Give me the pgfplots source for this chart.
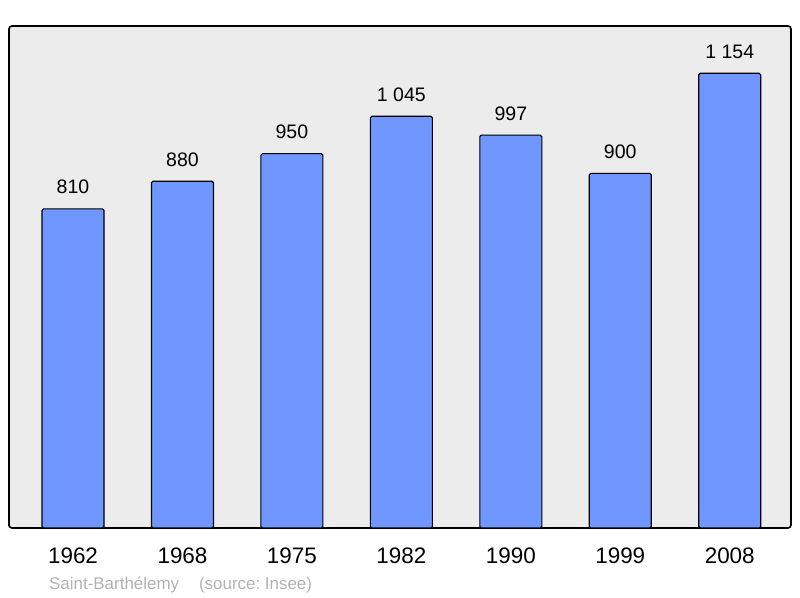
\documentclass[border=0pt]{standalone}
\usepackage{pgfplots}
\pgfplotsset{compat=1.18}
\usepackage{fontspec}
\setmainfont{Liberation Sans}
\definecolor{barblue}{RGB}{112,150,255}
\definecolor{panel}{RGB}{236,236,236}
\definecolor{srcgray}{RGB}{178,178,178}
\frenchspacing

\begin{document}
\begin{tikzpicture}[x=1bp,y=1bp]
\useasboundingbox (0,0) rectangle (800,598);
\begin{axis}[
    at={(9bp,70bp)},
    anchor=south west,
    scale only axis,
    width=782bp,
    height=502bp,
    xmin=-0.585, xmax=6.56,
    ymin=0, ymax=1274,
    xtick=data,
    xticklabels={1962,1968,1975,1982,1990,1999,2008},
    ytick=\empty,
    major tick length=0pt,
    axis background/.style={fill=panel, rounded corners=3bp},
    axis line style={line width=1.6bp, rounded corners=3bp},
    tick label style={font=\fontsize{22.5}{26}\selectfont, text=black},
    xticklabel style={anchor=base, yshift=-36bp},
    /pgf/number format/assume math mode=true,
    /pgf/number format/1000 sep={\ },
    nodes near coords,
    every node near coord/.append style={font=\fontsize{19.6}{23}\selectfont, anchor=base, yshift=15bp},
]
\addplot[ybar, bar width=62bp, fill=barblue, draw=black, line width=1.1bp, rounded corners=1.5bp]
coordinates {
    (0, 810)
    (1, 880)
    (2, 950)
    (3, 1045)
    (4, 997)
    (5, 900)
    (6, 1154)
};
\end{axis}
\node[anchor=base west, inner sep=0pt, text=srcgray, font=\fontsize{17}{20}\selectfont] at (49,8) {Saint-Barthélemy\hspace{20bp}(source: Insee)};
\end{tikzpicture}
\end{document}
